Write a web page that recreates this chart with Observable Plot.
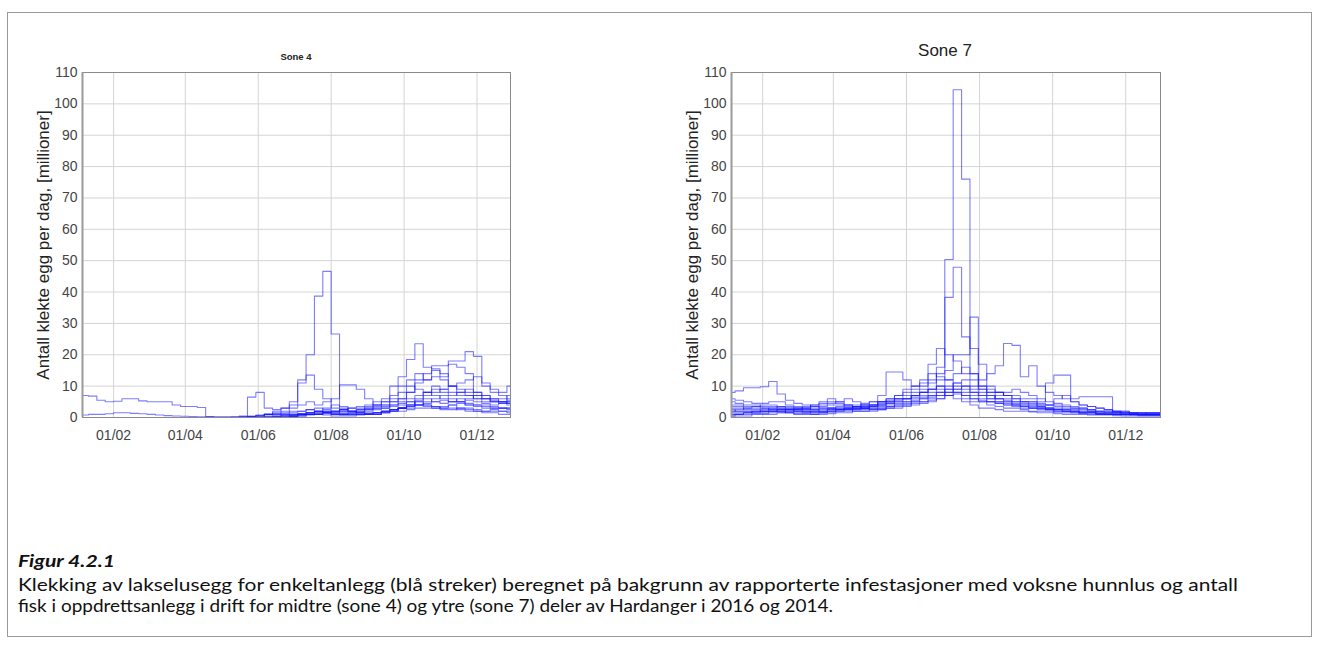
<!DOCTYPE html>
<html><head><meta charset="utf-8">
<script src="https://cdn.jsdelivr.net/npm/d3@7"></script>
<script src="https://cdn.jsdelivr.net/npm/@observablehq/plot@0.6"></script>
<style>
html,body{margin:0;padding:0;background:#fff;}
#page{position:relative;width:1320px;height:650px;overflow:hidden;font-family:"Liberation Sans",Arial,sans-serif;}
#box{position:absolute;left:7px;top:12px;width:1305px;height:625px;border:1px solid #9a9a9a;box-sizing:border-box;}
.plot{position:absolute;top:40px;}
.ttl{position:absolute;color:#222;white-space:nowrap;transform:translateX(-50%);}
.ylab{position:absolute;font-size:17px;color:#222;white-space:nowrap;transform:translate(-50%,-50%) rotate(-90deg);}
.cap{position:absolute;left:18px;font-family:Lato,"Open Sans",sans-serif;color:#111;white-space:nowrap;transform-origin:0 50%;font-size:17px;}
</style></head>
<body><div id="page">
<div id="box"></div>
<div class="ttl" style="left:296px;top:51px;font-size:9.5px;font-weight:bold;">Sone 4</div>
<div class="ttl" style="left:945px;top:41px;font-size:17px;">Sone 7</div>
<div class="ylab" style="left:44px;top:245px;">Antall klekte egg per dag, [millioner]</div>
<div class="ylab" style="left:693px;top:245px;">Antall klekte egg per dag, [millioner]</div>
<div id="p4" class="plot" style="left:20px;"></div>
<div id="p7" class="plot" style="left:669px;"></div>
<div id="capT" class="cap" style="top:550px;font-weight:bold;font-style:italic;">Figur 4.2.1</div>
<div id="cap1" class="cap" style="top:574px;">Klekking av lakselusegg for enkeltanlegg (blå streker) beregnet på bakgrunn av rapporterte infestasjoner med voksne hunnlus og antall</div>
<div id="cap2" class="cap" style="top:595px;">fisk i oppdrettsanlegg i drift for midtre (sone 4) og ytre (sone 7) deler av Hardanger i 2016 og 2014.</div>
</div>
<script>
// ---- axis ticks ----
const yTicks = [0,10,20,30,40,50,60,70,80,90,100,110];
const xTicks2016 = ["2016-02-01","2016-04-01","2016-06-01","2016-08-01","2016-10-01","2016-12-01"];
const xTicks2014 = ["2014-02-01","2014-04-01","2014-06-01","2014-08-01","2014-10-01","2014-12-01"];
const domain2016 = ["2016-01-06","2016-12-29"];
const domain2014 = ["2014-01-06","2014-12-30"];
// weekly step start dates
const weekStart2016 = "2016-01-04";
const weekStart2014 = "2014-01-02";
const N = null;

// ---- Sone 4 (2016): weekly values per farm, millions of eggs per day ----
const s4_a = [7,6.8,5.5,5,5.2,6,6,5.3,5,5, 5,4,3.5,3.5,3.2,0.3,0.2,0.2,0.3,0.3, 0.5,0.8,1,1.2,1,0.8,1,1.5,2,1.5, 1,1,1.5,2,2.5,3,3,3.5,4,5, 5.5,6,5,4.5,5,6,5.5,5,4.5,4, 4.5,5];
const s4_b = [0.8,1,1,1.2,1.5,1.5,1.3,1.2,1,0.8, 0.6,0.5,0.4,0.3,0.2,0.2,0.1,0.1,0.1,0.2, 0.3,0.5,0.8,1,1.2,1.5,2,2.5,2,1.5, 1,1,1.2,1.5,2,2.5,3,4,4.5,5, 4,3.5,3,3.5,4,3,2.5,2,2,2.5, 2,2];
const s4_p = [N,N,N,N,N,N,N,N,N,N, N,N,N,N,N,N,N,N,N,N, 0.3,0.5,1,2,3,5,11,20,38.7,46.6, 26.6,3.5,2,1.5,1,1,1.5,2,3,4, 5,4,3.5,3,3,2.5,2,2,1.5,1.5, 1,1];
const s4_q = [N,N,N,N,N,N,N,N,N,N, N,N,N,N,N,N,N,N,N,0.5, 6.5,8,3,2.5,3,4,12,13.5,9,6, 3,2,2,2.5,3,4,5,6,8,10, 9,8,7,6,5,5,4,4,3,3, 3,3];
const s4_r = [N,N,N,N,N,N,N,N,N,N, N,N,N,N,N,N,N,N,N,N, 0.2,0.5,1,1.5,2,3,4,5,4,5, 6,10.4,10.4,9,6,4,4,5,6,8, 11,12,13,12,10,9,8,7,6,5, 5,4.5];
const s4_s1 = [N,N,N,N,N,N,N,N,N,N, N,N,N,N,N,N,N,N,N,N, N,N,N,N,N,0.5,1,1,1.5,2, 2,2.5,3,3.5,4,5,6,10,13,18.5, 23.5,16,15.5,14,10,8,7,6,5,5, 4.5,4];
const s4_s2 = [N,N,N,N,N,N,N,N,N,N, N,N,N,N,N,N,N,N,N,N, N,N,N,N,N,N,0.5,1,1,1.5, 1.5,2,2,2.5,3,3.5,4,5,6,8, 12,14,16.5,16.5,18,18,21,19.5,11,9, 8,10];
const s4_s3 = [N,N,N,N,N,N,N,N,N,N, N,N,N,N,N,N,N,N,N,N, N,N,N,0.5,0.8,1,1.2,1.5,1.8,2, 2,2.5,3,3,3.5,4,5,7,10,12, 14,12,15,13,17,16,14,8,7,6, 5,5];
const s4_s4 = [N,N,N,N,N,N,N,N,N,N, N,N,N,N,N,N,N,N,N,N, N,0.5,1,1,1.5,2,2,2.5,3,2.5, 2,1.5,1.5,2,2.5,3,3.5,4,5,6, 7,8,9,8,7,8,9,8,7,6, 6,5.5];
const s4_s5 = [N,N,N,N,N,N,N,N,N,N, N,N,N,N,N,N,N,N,N,N, N,N,0.3,0.5,0.8,1,1.2,1.5,2,1.8, 1.5,1.2,1,1,1.2,1.5,2,2.5,3,3.5, 4,5,6,7,6,5,6,7,6,5, 5,4.5];
const s4_s6 = [N,N,N,N,N,N,N,N,N,N, N,N,N,N,N,N,N,N,N,N, N,N,N,0.2,0.3,0.5,0.8,1,1.2,1.5, 1.2,1,1,1,1,1.5,2,2.5,3,3, 4,4,3.5,3,4,4.5,4,3.5,3.5,3, 3,2.5];
const s4_s7 = [N,N,N,N,N,N,N,N,N,N, N,N,N,N,N,N,N,N,N,N, N,N,N,N,N,0.5,1,1.5,2,3, 4,3,2,1.5,1.5,1.5,2,2.5,3,4, 5,7,8,9,10,11,12,13,10,8, 7,6];
const s4_s8 = [N,N,N,N,N,N,N,N,N,N, N,N,N,N,N,N,N,N,N,N, N,N,N,N,0.5,0.5,1,1,1,0.8, 0.5,0.5,0.5,0.8,1,1,1.5,2,2,2.5, 3,3,3,2.5,2.5,3,3,2.5,2,2, 2,1.5];
const s4_t1 = [N,N,N,N,N,N,N,N,N,N, N,N,N,N,N,N,N,N,N,N, N,N,0.2,0.3,0.5,0.5,0.8,1,1,1.2, 1,0.8,0.8,1,1.2,1.5,2,2.5,3,3.5, 4,4.5,5,5.5,5,5,4.5,4,4,3.5, 3,3];
const s4_t2 = [N,N,N,N,N,N,N,N,N,N, N,N,N,N,N,N,N,N,N,N, N,N,N,N,N,0.3,0.5,0.8,1,1.5, 2,2.5,2,1.5,1,1,1.5,2,3,4, 6,8,10,9,8,7,7,6,6,5.5, 5,7];

// ---- Sone 7 (2014) ----
const s7_a = [8,8.5,9.5,9.5,9.8,11.5,7.5,5.5,4.5,4, 3.5,3,3,2.5,2.5,3,3,3.5,4,4.5, 5,6,7,8,9,10,7,6,5,4, 3,3,2.5,2,2,2,1.8,1.5,1.5,1.2, 1,1,1,0.8,0.8,0.8,0.6,0.5,0.5,0.5, 0.5,0.5];
const s7_b = [6,5.5,5,4.5,4.5,5,5,4,3.5,3, 3.5,4,4.5,5,6,5,4,4,5,6, 7,9,10,12,14,13,12,8,6,5, 5,4,3.5,3,3,2.5,2,2,2,1.5, 1.5,1.5,1.2,1,1,1,1,1,0.8,0.8, 0.8,0.8];
const s7_c = [3,3,2.5,2.5,2,2,2,2.5,3,3, 2.5,2,2,2.5,3,3,3.5,4,4.5,5, 6,7,8,9,11,14,50.4,104.5,76,22, 10,8,6,5,4,3.5,3,3,2.5,2, 2,2,1.5,1.5,1.2,1,1,1,1,1, 1,1];
const s7_d = [4,4,3.5,3.5,3,3,3.5,3.5,3,2.5, 3,3.5,4,4,3.5,3,3.5,4,5,6, 7,8,9,10,12,16,38.3,47.9,25.7,14, 9,7,6,6,5,4.5,4,3.5,3,3, 2.5,2.5,2,2,1.5,1.5,1.5,1,1,1, 1,1];
const s7_e = [2,2,2,1.5,1.5,2,2.5,2.5,2,2, 2,2.5,3,3,2.5,2.5,3,3.5,4,5, 6,6,7,8,9,12,15,20,20,32, 17,10,8,7,6,5,5,4,4,3.5, 3,3,2.5,2,2,2,1.5,1.5,1.5,1, 1,1];
const s7_f = [1,1,1.5,1.5,2,2,2,1.5,1.5,1.5, 2,2,2.5,3,3,3.5,4,4,5,5, 5.5,6,7,8,9,10,12,14,16,14, 12,14,16.5,23.6,23,13,16.5,10,8,7, 6,5,4,3.5,3,2.5,2,2,1.5,1.5, 1.5,1.5];
const s7_g = [5,4.5,4,4,3.5,3.5,3,3,2.5,2.5, 2.5,3,3,3.5,4,4,4.5,5,5,5.5, 6,6,6.5,7,8,9,10,11,12,10, 9,8,8,7,7,6,6,5,11,13.5, 13.5,6,6.6,6.6,6.6,6.6,2,2,1.5,1.5, 1.2,1.2];
const s7_h = [1.5,1.5,1.5,2,2,2,2.5,2.5,2.5,2, 2,2,2.5,2.5,3,3.5,4,5,7,14.5, 14.5,12,10,11,17,22,20,18,14,12, 10,9,8,7,6,5,5,4.5,4,4, 3.5,3,3,2.5,2,2,2,1.5,1.5,1.5, 1.5,1.5];
const s7_i = [2.5,2,2,2,2.5,3,3,2.5,2,2, 1.5,1.5,2,2,2.5,2,2,2.5,3,3.5, 4,4.5,5,6,7,8,9,11,10,8, 7,6,7,8,9,8,7,6,5,4.5, 4,3.5,3,2.5,2,1.5,1.5,1,1,0.8, 0.8,0.8];
const s7_j = [1,1,1,1.2,1.2,1.5,1.5,1.5,1.2,1.2, 1,1,1.2,1.5,1.5,2,2,2,2.5,3, 3,3.5,4,4.5,5,6,7,8,7,6, 5,5,4.5,4,4,3.5,3,3,2.5,2.5, 2,2,1.5,1.5,1.2,1,1,0.8,0.8,0.6, 0.6,0.6];
const s7_k = [3.5,3.5,3,3,3,2.5,2.5,2,2,1.5, 1.5,1.5,1.5,2,2,2.5,2.5,3,3,3.5, 4,4,5,5,6,7,8,9,10,9, 8,7,6,5.5,5,5,4.5,4,4,6, 7,5,4,3.5,3,2.5,2,1.5,1.2,1, 1,1];
const s7_l = [0.5,0.5,0.5,1,1,1,1.5,2,2.5,3, 4,5,6,5,4,3,3,3.5,4,4.5, 5,5,5.5,6,6.5,7,8,9,8,7, 6,5,5,4.5,4,4,3.5,3,3,2.5, 2.5,2,2,2,1.5,1.5,1.5,1.5,1.2,1.2, 1.5,1.5];
const s7_m = [2,2.5,3,3.5,4,4,3.5,3,3,3.5, 4,4.5,5,4.5,4,3.5,3,3,3.5,4, 4.5,5,6,6.5,7,8,9,10,9,8, 7,6,5,5,4.5,4,4,3.5,3,2.5, 2,2,1.5,1.5,1,1,1,1,1,1, 1,1];
const s7_n = [0.5,1,1.5,2,2,2.5,2,1.5,1,1, 1,1.5,2,2.5,3,3.5,3,2.5,2.5,3, 3.5,4,4.5,5,5.5,6,7,7.5,7,6, 5.5,5,4.5,4,3.5,3,3,2.5,2.5,2, 2,1.5,1.5,1.5,1.2,1.2,1,1,1,1, 1,1];

const sone4 = [s4_a,s4_b,s4_p,s4_q,s4_r,s4_s1,s4_s2,s4_s3,s4_s4,s4_s5,s4_s6,s4_s7,s4_s8,s4_t1,s4_t2];
const sone7 = [s7_a,s7_b,s7_c,s7_d,s7_e,s7_f,s7_g,s7_h,s7_i,s7_j,s7_k,s7_l,s7_m,s7_n];

function toRows(series, start) {
  const t0 = new Date(start + "T00:00:00Z");
  const rows = [];
  series.forEach((vals, k) => {
    vals.forEach((v, i) => rows.push({s: k, date: d3.utcDay.offset(t0, 7 * i), v: v == null ? NaN : v}));
    rows.push({s: k, date: d3.utcDay.offset(t0, 7 * vals.length), v: vals[vals.length - 1]});
  });
  return rows;
}
const D = s => new Date(s + "T00:00:00Z");

function panel(series, start, dom, ticks, width) {
  const rows = toRows(series, start);
  return Plot.plot({
    width, height: 417,
    marginLeft: 62, marginRight: 10, marginTop: 32, marginBottom: 40,
    style: {fontFamily: "'Liberation Sans', Arial, sans-serif", background: "transparent", overflow: "visible"},
    x: {type: "utc", domain: dom.map(D)},
    y: {domain: [0, 110]},
    marks: [
      Plot.gridY(yTicks, {stroke: "#d4d4d4", strokeOpacity: 1}),
      Plot.gridX(ticks.map(D), {stroke: "#d4d4d4", strokeOpacity: 1}),
      Plot.lineY(rows, {x: "date", y: "v", z: "s", curve: "step-after", stroke: "#1414ff", strokeOpacity: 0.55, strokeWidth: 1.1, clip: true}),
      Plot.frame({stroke: "#8a8a8a"}),
      Plot.ruleX([dom[0]].map(D), {stroke: "#9a9a9a", strokeWidth: 2}),
      Plot.axisY(yTicks, {tickSize: 0, tickPadding: 5, fontSize: 14, fill: "#444", label: null}),
      Plot.axisX(ticks.map(D), {tickSize: 0, tickPadding: 13, fontSize: 14, fill: "#444", tickFormat: d3.utcFormat("%d/%m"), label: null})
    ]
  });
}

document.getElementById("p4").append(panel(sone4, weekStart2016, domain2016, xTicks2016, 500));
document.getElementById("p7").append(panel(sone7, weekStart2014, domain2014, xTicks2014, 501));

// stretch caption text horizontally to the reference's extent
function fit(el, target) {
  const w = el.getBoundingClientRect().width;
  el.style.transform = `scaleX(${target / w})`;
}
fit(document.getElementById("capT"), 97);
fit(document.getElementById("cap1"), 1220);
fit(document.getElementById("cap2"), 815);
</script>
</body></html>
